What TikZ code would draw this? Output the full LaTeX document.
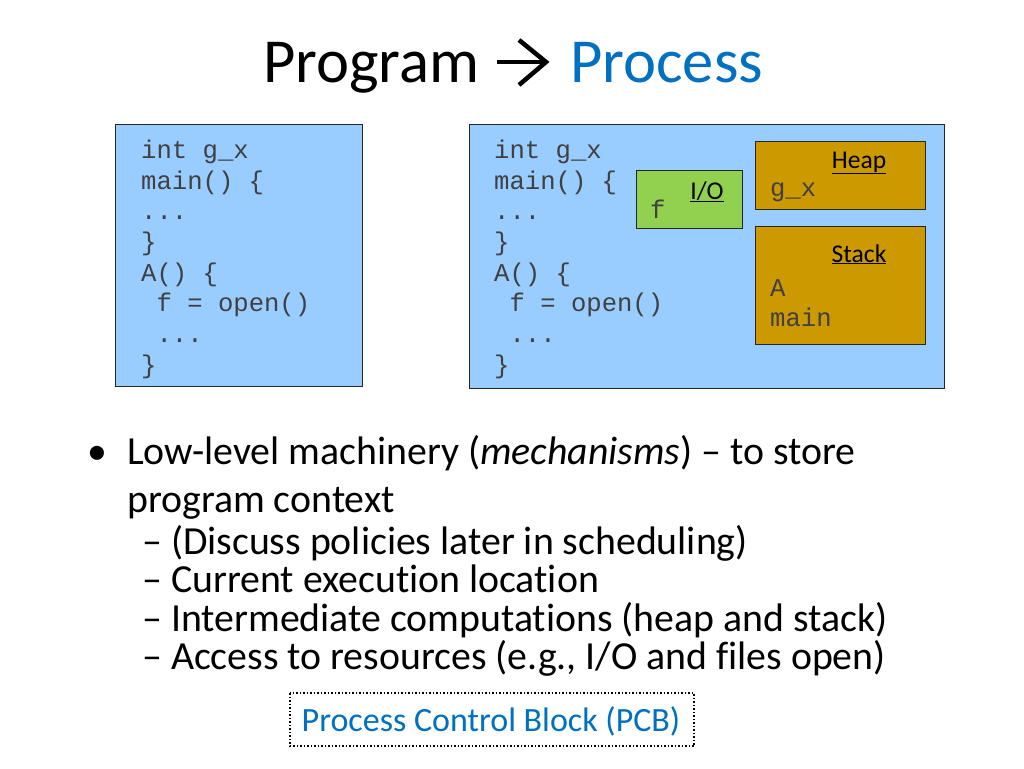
\documentclass[tikz,border=0pt]{standalone}
\usepackage{fontspec}
\setmainfont[Ligatures={NoCommon}]{Carlito}
\newfontfamily\codefont{Liberation Mono}
\definecolor{boxblue}{HTML}{99CCFF}
\definecolor{iogreen}{HTML}{92D050}
\definecolor{gold}{HTML}{CC9900}
\definecolor{titleblue}{HTML}{0070C0}
\tikzset{
  codebox/.style={draw=black!85, line width=1.2pt, fill=boxblue},
  iobox/.style={draw=black!85, line width=1.2pt, fill=iogreen},
  memboxstyle/.style={draw=black!85, line width=1.2pt, fill=gold},
  code/.style={anchor=base west, inner sep=0pt, font=\codefont\fontsize{25.6}{30}\selectfont, text=black!75},
  lbl/.style={anchor=base, inner sep=0pt, font=\fontsize{25.6}{30}\selectfont},
  body/.style={anchor=base west, inner sep=0pt, font=\fontsize{39.8}{40}\selectfont},
  titletxt/.style={anchor=base west, inner sep=0pt, font=\fontsize{62.6}{70}\selectfont},
}
\begin{document}
\begin{tikzpicture}[x=1pt,y=-1pt]
\useasboundingbox (0,0) rectangle (1024,768);
\fill[white] (0,0) rectangle (1024,768);
% title
\node[titletxt] (t1) at (263,82) {Program};
\coordinate (as) at (497,62);
\coordinate (ae) at (546,62);
\draw[line width=4.5pt] (as) -- (ae);
\draw[line width=4.5pt, line join=miter] (519,40) -- (ae) -- (519,85);
\node[titletxt, text=titleblue] (t2) at (570,82) {Process};
% left box
\node[codebox, minimum width=247pt, minimum height=262pt, anchor=north west, inner sep=0pt] (lb) at (115,124) {};
\node[code] (l1) at (141,158) {int g\_x};
\node[code] (l2) at (141,189) {main() \{};
\node[code] (l3) at (141,219) {...};
\node[code] (l4) at (141,250) {\}};
\node[code] (l5) at (141,281) {A() \{};
\node[code] (l6) at (156.4,311) {f = open()};
\node[code] (l7) at (156.4,342) {...};
\node[code] (l8) at (141,373) {\}};
% right box
\node[codebox, minimum width=475pt, minimum height=264pt, anchor=north west, inner sep=0pt] (rb) at (469,124) {};
\node[code] (r1) at (494,158) {int g\_x};
\node[code] (r2) at (494,189) {main() \{};
\node[code] (r3) at (494,219) {...};
\node[code] (r4) at (494,250) {\}};
\node[code] (r5) at (494,281) {A() \{};
\node[code] (r6) at (509.4,311) {f = open()};
\node[code] (r7) at (509.4,342) {...};
\node[code] (r8) at (494,373) {\}};
% I/O
\node[iobox, minimum width=106pt, minimum height=58pt, anchor=north west, inner sep=0pt] (io) at (636,170) {};
\node[lbl] (iol) at (707,199) {\underline{I/O}};
\node[code] (iof) at (650,218) {f};
% heap
\node[memboxstyle, minimum width=170pt, minimum height=68pt, anchor=north west, inner sep=0pt] (hp) at (755,141) {};
\node[lbl] (hpl) at (859,168) {\underline{Heap}};
\node[code] (hpx) at (770,196) {g\_x};
% stack
\node[memboxstyle, minimum width=170pt, minimum height=118pt, anchor=north west, inner sep=0pt] (st) at (755,226) {};
\node[lbl] (stl) at (859,262) {\underline{Stack}};
\node[code] (sta) at (770,296) {A};
\node[code] (stm) at (770,326) {main};
% bullets
\node[body] (b0) at (87,464) {•};
\node[body] (b1) at (127,464) {Low-level machinery (\textit{mechanisms}) – to store};
\node[body] (b2) at (127,512) {program context};
\node[body] (s1) at (142,554) {– (Discuss policies later in scheduling)};
\node[body] (s2) at (142,592) {– Current execution location};
\node[body] (s3) at (142,631) {– Intermediate computations (heap and stack)};
\node[body] (s4) at (142,669) {– Access to resources (e.g., I/O and files open)};
% PCB
\draw[line width=1.5pt, dotted] (290,693) rectangle (694,746);
\node[anchor=base, inner sep=0pt, font=\fontsize{34}{36}\selectfont, text=titleblue] (pcb) at (491,731) {Process Control Block (PCB)};
\end{tikzpicture}
\end{document}
